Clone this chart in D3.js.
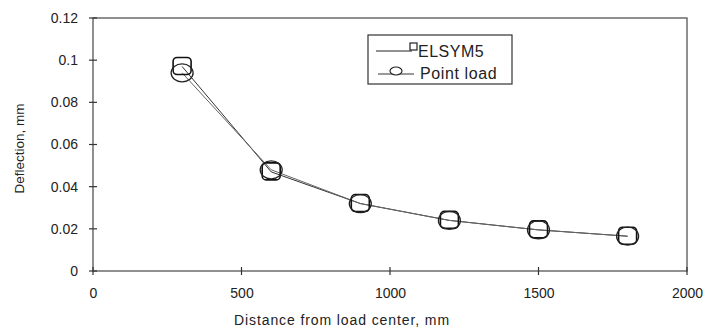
<!DOCTYPE html>
<html><head><meta charset="utf-8">
<script src="https://cdn.jsdelivr.net/npm/d3@7"></script>
<style>body{margin:0;background:#fff}svg{display:block}text{font-family:"Liberation Sans",Arial,sans-serif;fill:#222}</style>
</head><body>
<svg id="c" width="707" height="332"></svg>
<script>
const distances = [300, 600, 900, 1200, 1500, 1800];
const elsym5 = [0.097, 0.047, 0.032, 0.024, 0.0195, 0.0165];
const pointLoad = [0.094, 0.048, 0.032, 0.024, 0.0195, 0.0165];
const xTicks = [0, 500, 1000, 1500, 2000];
const yTicks = [0, 0.02, 0.04, 0.06, 0.08, 0.1, 0.12];
const seriesNames = ["ELSYM5", "Point load"];

const svg = d3.select("#c");
const L = 93, R = 687, T = 18, B = 271;
const x = d3.scaleLinear().domain([0, 2000]).range([L, R]);
const y = d3.scaleLinear().domain([0, 0.12]).range([B, T]);

// frame
svg.append("rect").attr("x", L).attr("y", T).attr("width", R - L).attr("height", B - T)
  .attr("fill", "none").attr("stroke", "#555").attr("stroke-width", 1.3);

const xa = svg.append("g").attr("transform", `translate(0,${B})`)
  .call(d3.axisBottom(x).tickValues(xTicks).tickSize(0).tickPadding(17).tickFormat(d3.format("d")));
xa.select(".domain").remove();
xa.selectAll(".tick line").remove();
xa.selectAll("text").attr("font-size", 14).attr("fill", "#222");
svg.append("g").selectAll("line").data(xTicks).join("line")
  .attr("x1", d => x(d)).attr("x2", d => x(d)).attr("y1", B - 4).attr("y2", B + 4)
  .attr("stroke", "#333").attr("stroke-width", 1.2);

const ya = svg.append("g").attr("transform", `translate(${L},0)`)
  .call(d3.axisLeft(y).tickValues(yTicks).tickSize(0).tickPadding(15).tickFormat(d => d === 0 ? "0" : String(+d.toFixed(2))));
ya.select(".domain").remove();
ya.selectAll(".tick line").remove();
ya.selectAll("text").attr("font-size", 14).attr("fill", "#222");
svg.append("g").selectAll("line").data(yTicks).join("line")
  .attr("x1", L - 4).attr("x2", L + 4).attr("y1", d => y(d)).attr("y2", d => y(d))
  .attr("stroke", "#333").attr("stroke-width", 1.2);

svg.append("text").attr("x", 342).attr("y", 325).attr("text-anchor", "middle")
  .attr("font-size", 14).attr("letter-spacing", 0.9).text("Distance from load center, mm");
svg.append("text").attr("transform", `translate(24,${(T + B) / 2 + 4}) rotate(-90)`).attr("text-anchor", "middle")
  .attr("font-size", 13.5).text("Deflection, mm");

const line = d3.line().x(d => x(d[0])).y(d => y(d[1]));
const s1 = distances.map((d, i) => [d, elsym5[i]]);
const s2 = distances.map((d, i) => [d, pointLoad[i]]);
svg.append("path").attr("d", line(s1)).attr("fill", "none").attr("stroke", "#333").attr("stroke-width", 1);
svg.append("path").attr("d", line(s2)).attr("fill", "none").attr("stroke", "#666").attr("stroke-width", 1);

svg.append("g").selectAll("rect").data(s1).join("rect")
  .attr("x", d => x(d[0]) - 9).attr("y", d => y(d[1]) - 9).attr("width", 18).attr("height", 17).attr("rx", 4)
  .attr("fill", "none").attr("stroke", "#111").attr("stroke-width", 1.6);
svg.append("g").selectAll("ellipse").data(s2).join("ellipse")
  .attr("cx", d => x(d[0])).attr("cy", d => y(d[1])).attr("rx", 11).attr("ry", 9)
  .attr("fill", "none").attr("stroke", "#222").attr("stroke-width", 1.3);

// legend
const lg = svg.append("g");
lg.append("rect").attr("x", 368).attr("y", 35).attr("width", 144).attr("height", 49)
  .attr("fill", "#fff").attr("stroke", "#333").attr("stroke-width", 1.2);
lg.append("line").attr("x1", 376).attr("x2", 412).attr("y1", 51).attr("y2", 51).attr("stroke", "#222");
lg.append("rect").attr("x", 410).attr("y", 43).attr("width", 7).attr("height", 7).attr("fill", "#fff").attr("stroke", "#222").attr("stroke-width", 1.2);
lg.append("text").attr("x", 418).attr("y", 57).attr("font-size", 16).attr("letter-spacing", 0.5).text(seriesNames[0]);
lg.append("line").attr("x1", 378).attr("x2", 414).attr("y1", 74).attr("y2", 74).attr("stroke", "#333");
lg.append("ellipse").attr("cx", 396).attr("cy", 71).attr("rx", 6).attr("ry", 4).attr("fill", "#fff").attr("stroke", "#222").attr("stroke-width", 1.2);
lg.append("text").attr("x", 420).attr("y", 79).attr("font-size", 16).attr("letter-spacing", 0.6).text(seriesNames[1]);
</script>
</body></html>
